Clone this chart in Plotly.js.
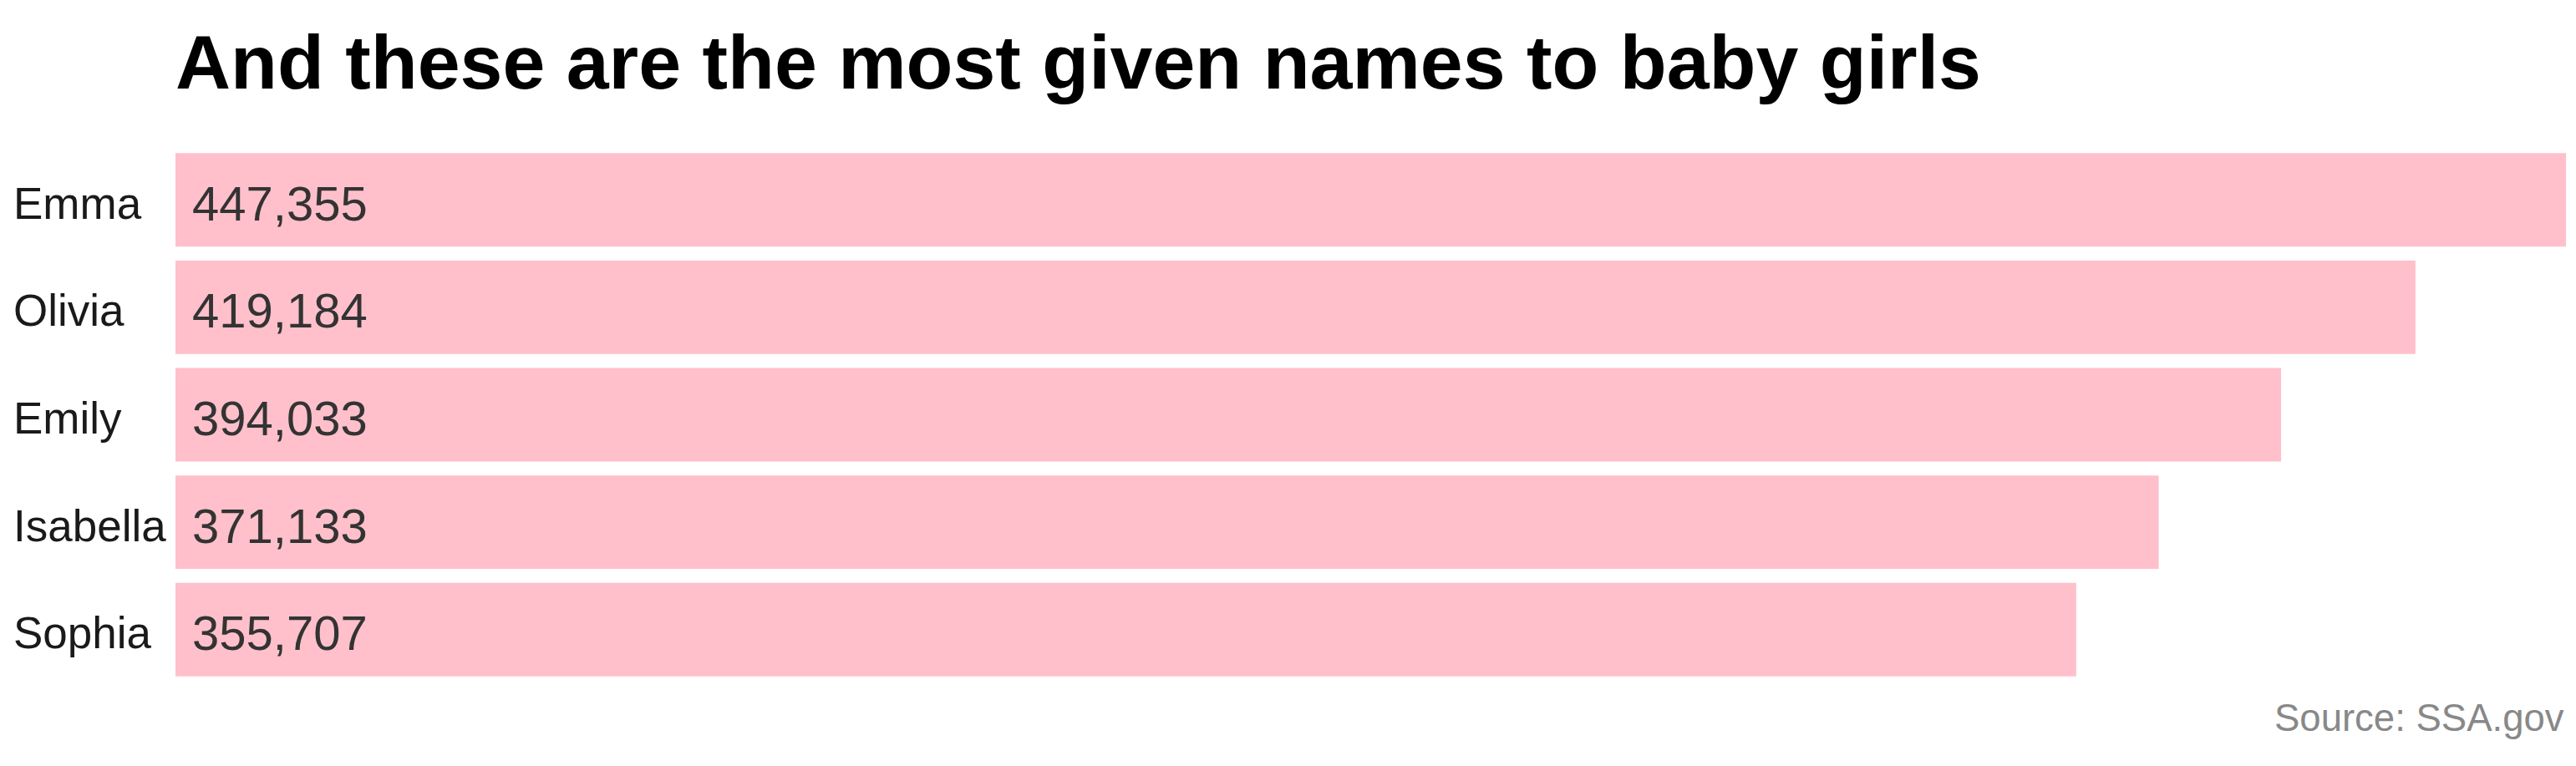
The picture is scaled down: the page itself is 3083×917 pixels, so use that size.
<!DOCTYPE html>
<html>
<head>
<meta charset="utf-8">
<script src="https://cdn.plot.ly/plotly-3.0.1.min.js"></script>
<style>
html, body { margin: 0; padding: 0; background: #ffffff; }
#chart { width: 3083px; height: 917px; }
</style>
</head>
<body>
<div id="chart"></div>
<script>
const names = ["Emma", "Olivia", "Emily", "Isabella", "Sophia"];
const counts = [447355, 419184, 394033, 371133, 355707];
const titleText = "And these are the most given names to baby girls";
const sourceText = "Source: SSA.gov";

const fmt = v => v.toLocaleString("en-US");

const trace = {
  type: "bar",
  orientation: "h",
  y: names,
  x: counts,
  marker: { color: "#FFC0CB", line: { width: 0 } },
  hoverinfo: "none",
  showlegend: false
};

const annotations = [];
names.forEach((n, i) => {
  annotations.push({
    xref: "paper", yref: "y",
    x: -0.0685, y: n, yshift: -4,
    xanchor: "left", yanchor: "middle",
    text: n, showarrow: false,
    font: { family: "Liberation Sans, Arial, sans-serif", size: 53, color: "#1a1a1a" }
  });
  annotations.push({
    xref: "x", yref: "y",
    x: 0, y: n, xshift: 18, yshift: -4,
    xanchor: "left", yanchor: "middle",
    text: fmt(counts[i]), showarrow: false,
    font: { family: "Liberation Sans, Arial, sans-serif", size: 58, color: "#333333" }
  });
});
annotations.push({
  xref: "paper", yref: "paper",
  x: 1, y: -0.064,
  xanchor: "right", yanchor: "middle",
  text: sourceText, showarrow: false,
  font: { family: "Liberation Sans, Arial, sans-serif", size: 45.5, color: "#888888" }
});

const layout = {
  width: 3083, height: 917,
  paper_bgcolor: "#ffffff", plot_bgcolor: "#ffffff",
  margin: { l: 210, r: 12, t: 175, b: 99, pad: 0 },
  title: {
    text: "<b>" + titleText + "</b>",
    xref: "paper", x: 0, xanchor: "left",
    yref: "container", y: 1 - 106 / 917, yanchor: "bottom",
    font: { family: "Liberation Sans, Arial, sans-serif", size: 91.5, color: "#000000" }
  },
  bargap: 0.13,
  xaxis: {
    range: [0, Math.max(...counts)],
    showgrid: false, zeroline: false, showticklabels: false, showline: false, ticks: ""
  },
  yaxis: {
    type: "category",
    autorange: "reversed",
    showgrid: false, zeroline: false, showticklabels: false, showline: false, ticks: ""
  },
  annotations: annotations
};

Plotly.newPlot("chart", [trace], layout, { displayModeBar: false, staticPlot: true });
</script>
</body>
</html>
